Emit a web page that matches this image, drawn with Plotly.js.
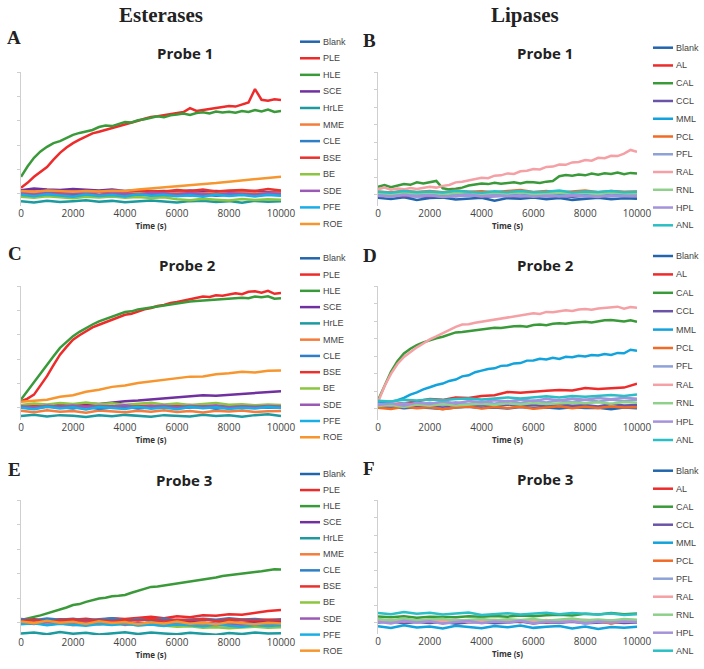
<!DOCTYPE html>
<html>
<head>
<meta charset="utf-8">
<script src="https://cdn.plot.ly/plotly-3.0.1.min.js"></script>
<style>
  html, body { margin: 0; padding: 0; background: #fff; }
  #chart { width: 704px; height: 669px; }
</style>
</head>
<body>
<div id="chart"></div>
<script>
// time points (s)
const T41 = [0,250,500,750,1000,1250,1500,1750,2000,2250,2500,2750,3000,3250,3500,3750,4000,4250,4500,4750,5000,5250,5500,5750,6000,6250,6500,6750,7000,7250,7500,7750,8000,8250,8500,8750,9000,9250,9500,9750,10000];
const T21 = [0,500,1000,1500,2000,2500,3000,3500,4000,4500,5000,5500,6000,6500,7000,7500,8000,8500,9000,9500,10000];
const TIME_TICKS = [0,2000,4000,6000,8000,10000];

const ESTERASE_NAMES = ["Blank","PLE","HLE","SCE","HrLE","MME","CLE","BSE","BE","SDE","PFE","ROE"];
const LIPASE_NAMES = ["Blank","AL","CAL","CCL","MML","PCL","PFL","RAL","RNL","HPL","ANL"];
const ESTERASE_COLORS = ["#2265ad","#ee2b2b","#3a9a3a","#7030a0","#1b9aa0","#f47c3c","#2f7fc8","#e8322e","#8cc540","#9b59b6","#19aee6","#f7962e"];
const LIPASE_COLORS = ["#2265ad","#ee2b2b","#3a9a3a","#6a54a8","#12a2dc","#f26a25","#8ea2d8","#f4a0a4","#8fd18a","#a493db","#29bfc4"];

// ---- A: esterases, probe 1
const A_BLANK = [-0.02,0.03,-0.05,0.0,-0.04,0.02,-0.06,0.0,-0.03,0.02,-0.05,-0.01,0.02,-0.04,0.0,-0.06,-0.02,0.01,-0.04,0.0,-0.02];
const A_PLE = [0.25,0.45,0.70,0.90,1.10,1.40,1.68,1.90,2.08,2.22,2.35,2.48,2.55,2.62,2.72,2.78,2.83,2.92,3.00,3.08,3.15,3.18,3.22,3.26,3.30,3.36,3.52,3.40,3.44,3.48,3.50,3.56,3.60,3.58,3.66,3.75,4.30,3.86,3.82,3.88,3.85];
const A_HLE = [0.70,1.12,1.48,1.74,1.93,2.08,2.16,2.30,2.42,2.50,2.56,2.62,2.74,2.80,2.78,2.86,2.95,2.93,3.02,3.06,3.12,3.18,3.14,3.22,3.26,3.30,3.24,3.32,3.35,3.30,3.38,3.34,3.37,3.33,3.40,3.36,3.44,3.38,3.46,3.36,3.40];
const A_SCE = [0.15,0.22,0.18,0.16,0.20,0.17,0.14,0.18,0.12,0.15,0.10,0.12,0.08,0.14,0.10,0.12,0.08,0.10,0.12,0.06,0.10];
const A_HRLE = [-0.30,-0.36,-0.28,-0.34,-0.30,-0.26,-0.33,-0.29,-0.35,-0.30,-0.27,-0.32,-0.36,-0.30,-0.28,-0.34,-0.30,-0.37,-0.29,-0.33,-0.30];
const A_MME = [0.10,0.04,0.08,0.02,0.06,0.05,0.08,0.03,0.06,0.02,0.05,0.00,0.04,0.06,0.02,0.05,0.03,0.06,0.02,0.04,0.05];
const A_CLE = [-0.06,-0.02,-0.08,-0.04,-0.10,-0.03,-0.07,-0.05,-0.09,-0.02,-0.06,-0.08,-0.04,-0.07,-0.03,-0.08,-0.05,-0.02,-0.07,-0.04,-0.06];
const A_BSE = [0.08,0.10,0.06,0.10,0.08,0.12,0.10,0.08,0.10,0.14,0.12,0.10,0.16,0.12,0.18,0.10,0.14,0.16,0.12,0.20,0.14];
const A_BE = [-0.12,-0.16,-0.10,-0.14,-0.18,-0.12,-0.15,-0.11,-0.16,-0.13,-0.17,-0.14,-0.22,-0.26,-0.20,-0.24,-0.27,-0.21,-0.25,-0.22,-0.24];
const A_SDE = [0.02,-0.03,0.04,-0.02,0.01,0.03,-0.04,0.02,0.00,-0.03,0.04,0.01,-0.02,0.03,0.00,-0.04,0.02,0.01,-0.03,0.02,0.00];
const A_PFE = [-0.04,-0.10,-0.02,-0.08,-0.12,-0.03,-0.09,-0.05,-0.11,-0.02,-0.08,-0.04,-0.10,-0.06,-0.12,-0.03,-0.09,-0.05,-0.11,-0.04,-0.08];
const A_ROE = [0.12,0.08,0.14,0.10,0.08,0.12,0.10,0.13,0.12,0.18,0.22,0.26,0.30,0.36,0.40,0.44,0.50,0.55,0.60,0.64,0.70];

// ---- B: lipases, probe 1
const B_BLANK = [-0.18,-0.25,-0.15,-0.30,-0.20,-0.16,-0.28,-0.22,-0.18,-0.35,-0.20,-0.24,-0.17,-0.26,-0.19,-0.30,-0.22,-0.18,-0.27,-0.21,-0.24];
const B_AL = [0.12,0.06,0.14,0.08,0.10,0.04,0.12,0.07,0.13,0.09,0.05,0.11,0.08,0.14,0.06,0.10,0.12,0.07,0.11,0.09,0.08];
const B_CAL = [0.45,0.55,0.42,0.50,0.60,0.56,0.70,0.64,0.72,0.78,0.36,0.30,0.34,0.40,0.52,0.58,0.63,0.60,0.68,0.62,0.67,0.70,0.64,0.72,0.70,0.66,0.74,0.78,1.05,1.12,1.08,1.15,1.10,1.20,1.14,1.22,1.18,1.26,1.16,1.24,1.20];
const B_CCL = [-0.10,-0.05,-0.12,-0.08,-0.14,-0.06,-0.10,-0.04,-0.12,-0.09,-0.07,-0.13,-0.05,-0.10,-0.08,-0.12,-0.06,-0.11,-0.09,-0.05,-0.10];
const B_MML = [0.04,0.10,0.02,0.08,0.00,0.06,0.03,0.09,0.01,0.05,0.07,0.02,0.08,0.04,0.00,0.06,0.03,0.08,0.02,0.05,0.04];
const B_PCL = [0.18,0.12,0.22,0.15,0.20,0.14,0.24,0.16,0.19,0.13,0.21,0.26,0.15,0.20,0.12,0.18,0.23,0.14,0.20,0.16,0.18];
const B_PFL = [-0.04,-0.10,0.00,-0.08,-0.02,-0.12,-0.05,-0.09,0.01,-0.07,-0.03,-0.11,-0.06,0.00,-0.09,-0.04,-0.08,-0.02,-0.10,-0.05,-0.06];
const B_RAL = [0.30,0.40,0.28,0.35,0.30,0.38,0.32,0.40,0.45,0.40,0.50,0.55,0.70,0.74,0.82,0.86,0.96,0.94,1.08,1.10,1.21,1.18,1.33,1.36,1.46,1.44,1.58,1.60,1.72,1.70,1.84,1.86,1.97,1.94,2.10,2.08,2.22,2.20,2.34,2.55,2.45];
const B_RNL = [0.10,0.04,0.14,0.06,0.12,0.02,0.09,0.13,0.05,0.10,0.07,0.12,0.03,0.09,0.11,0.06,0.10,0.04,0.12,0.08,0.07];
const B_HPL = [-0.06,-0.12,-0.02,-0.10,-0.04,-0.14,-0.07,-0.01,-0.11,-0.05,-0.09,-0.03,-0.12,-0.06,-0.10,-0.02,-0.08,-0.13,-0.04,-0.09,-0.06];
const B_ANL = [0.16,0.10,0.20,0.14,0.18,0.12,0.22,0.15,0.11,0.19,0.14,0.21,0.13,0.17,0.24,0.12,0.18,0.15,0.20,0.13,0.16];

// ---- C: esterases, probe 2
const C_BLANK = [0.04,0.00,0.06,0.02,-0.02,0.05,0.01,0.07,0.03,-0.01,0.04,0.06,0.00,0.03,0.05,-0.02,0.04,0.01,0.06,0.02,0.03];
const C_PLE = [0.27,0.38,0.54,0.90,1.30,1.75,2.18,2.50,2.80,2.98,3.14,3.30,3.41,3.52,3.62,3.72,3.82,3.86,3.96,4.04,4.10,4.18,4.22,4.30,4.34,4.40,4.48,4.52,4.57,4.55,4.62,4.60,4.64,4.70,4.66,4.76,4.78,4.72,4.80,4.68,4.71];
const C_HLE = [0.34,0.70,1.09,1.45,1.77,2.12,2.46,2.72,2.94,3.12,3.28,3.42,3.55,3.64,3.74,3.84,3.93,3.96,4.04,4.08,4.12,4.18,4.22,4.25,4.30,4.32,4.36,4.38,4.40,4.42,4.44,4.46,4.48,4.50,4.52,4.50,4.57,4.54,4.58,4.48,4.50];
const C_SCE = [0.10,0.12,0.08,0.14,0.13,0.18,0.16,0.22,0.27,0.30,0.34,0.38,0.44,0.48,0.52,0.50,0.54,0.58,0.61,0.64,0.68];
const C_HRLE = [-0.34,-0.28,-0.36,-0.30,-0.33,-0.38,-0.31,-0.35,-0.29,-0.34,-0.37,-0.30,-0.33,-0.36,-0.28,-0.34,-0.31,-0.37,-0.30,-0.26,-0.34];
const C_MME = [-0.12,-0.18,-0.10,-0.16,-0.13,-0.20,-0.11,-0.15,-0.18,-0.12,-0.16,-0.10,-0.17,-0.13,-0.19,-0.12,-0.15,-0.11,-0.17,-0.14,-0.13];
const C_CLE = [0.02,-0.04,0.05,0.00,-0.02,0.04,-0.05,0.01,0.03,-0.03,0.02,0.05,-0.02,0.00,0.04,-0.04,0.02,-0.01,0.03,0.00,0.02];
const C_BSE = [0.05,0.10,0.03,0.08,0.12,0.06,0.09,0.04,0.11,0.07,0.10,0.05,0.08,0.12,0.06,0.09,0.03,0.10,0.07,0.05,0.08];
const C_BE = [0.12,0.18,0.14,0.20,0.16,0.22,0.15,0.19,0.13,0.17,0.21,0.14,0.18,0.12,0.16,0.20,0.13,0.15,0.11,0.14,0.12];
const C_SDE = [0.06,0.02,0.08,0.04,0.09,0.03,0.07,0.05,0.10,0.02,0.06,0.08,0.03,0.07,0.05,0.09,0.02,0.06,0.04,0.07,0.05];
const C_PFE = [0.00,-0.06,0.04,-0.03,0.02,-0.07,0.03,-0.02,-0.05,0.04,-0.04,0.01,-0.06,0.03,-0.02,0.02,-0.05,0.00,-0.03,0.03,-0.01];
const C_ROE = [0.25,0.29,0.33,0.45,0.52,0.66,0.74,0.86,0.92,1.02,1.08,1.15,1.19,1.28,1.29,1.38,1.42,1.48,1.45,1.52,1.53];

// ---- D: lipases, probe 2
const D_BLANK = [0.05,0.10,0.02,0.08,0.04,-0.02,0.06,0.10,0.03,0.07,0.01,0.09,0.04,0.06,0.00,0.08,0.03,0.05,-0.03,0.06,0.02];
const D_AL = [0.19,0.25,0.30,0.42,0.55,0.50,0.64,0.60,0.72,0.76,0.95,0.90,0.98,1.02,1.06,1.04,1.18,1.12,1.16,1.20,1.42];
const D_CAL = [0.48,1.33,2.10,2.70,3.15,3.42,3.63,3.78,3.91,4.02,4.10,4.22,4.35,4.38,4.42,4.50,4.54,4.56,4.62,4.60,4.67,4.70,4.72,4.68,4.77,4.80,4.76,4.84,4.87,4.85,4.90,4.94,4.96,4.92,5.00,5.04,5.06,5.02,4.98,5.04,4.96];
const D_CCL = [0.15,0.08,0.20,0.12,0.18,0.10,0.22,0.14,0.19,0.11,0.24,0.16,0.20,0.13,0.25,0.17,0.21,0.12,0.26,0.18,0.20];
const D_MML = [0.38,0.35,0.40,0.48,0.61,0.80,0.93,1.10,1.22,1.35,1.43,1.58,1.66,1.84,1.90,2.08,2.17,2.26,2.30,2.44,2.46,2.58,2.60,2.74,2.75,2.84,2.80,2.90,2.84,2.96,2.93,3.02,2.98,3.06,3.03,3.12,3.06,3.18,3.16,3.36,3.30];
const D_PCL = [0.05,-0.02,0.10,0.02,0.08,-0.04,0.06,0.12,0.00,0.09,0.03,0.11,-0.01,0.07,0.13,0.02,0.10,0.04,0.12,0.06,0.08];
const D_PFL = [0.25,0.18,0.30,0.22,0.34,0.20,0.36,0.26,0.40,0.28,0.44,0.32,0.46,0.35,0.48,0.38,0.50,0.40,0.52,0.42,0.50];
const D_RAL = [0.38,1.28,1.98,2.55,2.95,3.24,3.50,3.72,3.95,4.12,4.30,4.50,4.67,4.80,4.82,4.90,4.96,5.04,5.08,5.12,5.19,5.26,5.30,5.38,5.44,5.40,5.52,5.50,5.57,5.62,5.58,5.66,5.69,5.64,5.72,5.76,5.76,5.82,5.70,5.80,5.76];
const D_RNL = [0.15,0.20,0.10,0.24,0.16,0.26,0.18,0.22,0.28,0.20,0.30,0.24,0.32,0.26,0.28,0.34,0.30,0.36,0.28,0.38,0.34];
const D_HPL = [0.20,0.30,0.16,0.34,0.26,0.40,0.30,0.44,0.36,0.48,0.40,0.52,0.44,0.56,0.46,0.58,0.50,0.60,0.54,0.62,0.56];
const D_ANL = [0.45,0.40,0.50,0.46,0.52,0.48,0.55,0.58,0.52,0.60,0.64,0.58,0.66,0.70,0.64,0.72,0.68,0.74,0.78,0.72,0.80];

// ---- E: esterases, probe 3
const E_BLANK = [0.10,0.14,0.08,0.12,0.06,0.11,0.09,0.13,0.07,0.12,0.10,0.05,0.11,0.08,0.13,0.09,0.06,0.12,0.10,0.08,0.11];
const E_PLE = [0.05,0.10,0.08,0.14,0.12,0.16,0.10,0.18,0.15,0.20,0.24,0.18,0.26,0.22,0.30,0.28,0.35,0.33,0.42,0.48,0.52];
const E_HLE = [0.11,0.16,0.24,0.30,0.38,0.46,0.52,0.62,0.72,0.76,0.85,0.92,0.99,1.02,1.08,1.10,1.13,1.22,1.30,1.38,1.46,1.48,1.52,1.56,1.60,1.62,1.68,1.72,1.76,1.80,1.84,1.90,1.94,1.96,2.02,2.04,2.07,2.10,2.14,2.18,2.17];
const E_SCE = [0.02,-0.04,0.05,0.00,0.03,-0.03,0.04,-0.01,0.02,-0.05,0.01,0.04,-0.02,0.03,0.00,-0.04,0.02,-0.01,0.04,0.00,0.02];
const E_HRLE = [-0.44,-0.40,-0.47,-0.38,-0.45,-0.41,-0.48,-0.42,-0.39,-0.46,-0.40,-0.44,-0.47,-0.41,-0.45,-0.49,-0.42,-0.46,-0.40,-0.44,-0.43];
const E_MME = [-0.04,0.02,-0.08,-0.02,-0.10,-0.04,-0.07,0.00,-0.09,-0.03,-0.06,-0.11,-0.02,-0.08,-0.05,-0.10,-0.03,-0.07,-0.12,-0.04,-0.06];
const E_CLE = [0.15,0.10,0.17,0.12,0.16,0.09,0.14,0.18,0.11,0.15,0.13,0.17,0.10,0.14,0.16,0.12,0.18,0.13,0.15,0.11,0.14];
const E_BSE = [0.08,0.12,0.05,0.10,0.14,0.07,0.11,0.06,0.13,0.09,0.15,0.08,0.12,0.10,0.14,0.07,0.13,0.11,0.09,0.12,0.10];
const E_BE = [0.02,-0.02,0.03,-0.04,0.00,-0.05,-0.02,-0.08,-0.04,-0.10,-0.07,-0.12,-0.16,-0.14,-0.20,-0.18,-0.22,-0.19,-0.16,-0.20,-0.18];
const E_SDE = [0.00,-0.05,0.03,-0.02,-0.06,0.01,-0.04,0.02,-0.07,-0.01,-0.05,0.00,-0.08,-0.03,0.01,-0.06,-0.02,-0.09,-0.04,-0.01,-0.05];
const E_PFE = [-0.06,-0.02,-0.10,-0.04,-0.08,-0.12,-0.05,-0.09,-0.03,-0.11,-0.07,-0.13,-0.06,-0.10,-0.14,-0.08,-0.12,-0.16,-0.09,-0.13,-0.10];
const E_ROE = [0.05,-0.02,0.08,0.00,0.04,-0.05,0.06,-0.01,0.03,-0.06,0.02,-0.03,0.05,-0.04,0.01,-0.07,0.03,-0.02,-0.06,0.00,-0.03];

// ---- F: lipases, probe 3
const F_BLANK = [0.10,0.02,0.12,0.05,0.08,-0.02,0.10,0.04,0.07,0.00,0.09,0.03,0.11,0.06,0.02,0.08,0.04,0.10,0.01,0.07,0.05];
const F_AL = [0.05,0.12,0.00,0.08,0.03,0.10,-0.02,0.06,0.09,0.01,0.07,0.04,0.11,-0.01,0.05,0.08,0.02,0.10,-0.04,0.06,0.03];
const F_CAL = [0.35,0.30,0.36,0.28,0.34,0.32,0.30,0.36,0.33,0.38,0.34,0.40,0.36,0.42,0.45,0.40,0.50,0.46,0.55,0.48,0.52];
const F_CCL = [0.00,0.06,-0.04,0.03,-0.02,0.05,-0.06,0.02,0.04,-0.03,0.01,0.06,-0.05,0.03,-0.01,0.05,-0.04,0.02,0.04,-0.02,0.01];
const F_MML = [-0.20,-0.30,-0.15,-0.28,-0.22,-0.34,-0.18,-0.26,-0.32,-0.20,-0.27,-0.16,-0.30,-0.24,-0.19,-0.33,-0.22,-0.36,-0.25,-0.30,-0.24];
const F_PCL = [0.08,0.02,0.12,0.05,0.10,0.00,0.07,0.13,0.03,0.09,0.06,0.11,0.01,0.08,0.04,0.10,0.02,0.07,-0.05,0.09,0.05];
const F_PFL = [0.15,0.08,0.18,0.10,0.14,0.06,0.16,0.09,0.13,0.05,0.15,0.11,0.07,0.14,0.10,0.17,0.08,0.12,0.06,0.13,0.10];
const F_RAL = [0.10,0.16,0.06,0.12,0.18,0.08,0.14,0.04,0.11,0.16,0.07,0.13,0.09,0.15,0.05,0.12,0.17,0.08,0.14,0.10,0.12];
const F_RNL = [0.20,0.14,0.24,0.12,0.18,0.22,0.10,0.16,0.20,0.13,0.19,0.15,0.21,0.11,0.17,0.23,0.14,0.18,0.12,0.20,0.16];
const F_HPL = [0.05,-0.05,0.10,0.00,0.08,-0.06,0.04,0.09,-0.03,0.06,0.00,0.10,-0.04,0.05,0.02,0.08,-0.05,0.06,0.00,0.07,0.02];
const F_ANL = [0.55,0.48,0.60,0.50,0.56,0.46,0.52,0.58,0.44,0.50,0.54,0.47,0.52,0.56,0.48,0.55,0.50,0.46,0.52,0.44,0.48];

const W = 704, H = 669;
const px = v => v / W;
const py = v => 1 - v / H;

// box = [left, right, top, bottom] in pixels; legend = [lineX, firstY, step]
const panels = [
  { letter: "A", probe: "Probe 1", names: ESTERASE_NAMES, colors: ESTERASE_COLORS,
    series: [A_BLANK,A_PLE,A_HLE,A_SCE,A_HRLE,A_MME,A_CLE,A_BSE,A_BE,A_SDE,A_PFE,A_ROE],
    box: [21,281,72,206], yRange: [-0.5,5], letterAt: [14,38], titleAt: [185,53], legend: [300,41.7,16.57] },
  { letter: "B", probe: "Probe 1", names: LIPASE_NAMES, colors: LIPASE_COLORS,
    series: [B_BLANK,B_AL,B_CAL,B_CCL,B_MML,B_PCL,B_PFL,B_RAL,B_RNL,B_HPL,B_ANL],
    box: [378,637,72,206], yRange: [-0.65,7], letterAt: [369,40], titleAt: [545,53], legend: [653,47.7,17.76] },
  { letter: "C", probe: "Probe 2", names: ESTERASE_NAMES, colors: ESTERASE_COLORS,
    series: [C_BLANK,C_PLE,C_HLE,C_SCE,C_HRLE,C_MME,C_CLE,C_BSE,C_BE,C_SDE,C_PFE,C_ROE],
    box: [21,281,286,420], yRange: [-0.5,5], letterAt: [15,253], titleAt: [187,265], legend: [300,258.3,16.27] },
  { letter: "D", probe: "Probe 2", names: LIPASE_NAMES, colors: LIPASE_COLORS,
    series: [D_BLANK,D_AL,D_CAL,D_CCL,D_MML,D_PCL,D_PFL,D_RAL,D_RNL,D_HPL,D_ANL],
    box: [378,637,286,420], yRange: [-0.65,7], letterAt: [370,255], titleAt: [545,265], legend: [653,256,18.4] },
  { letter: "E", probe: "Probe 3", names: ESTERASE_NAMES, colors: ESTERASE_COLORS,
    series: [E_BLANK,E_PLE,E_HLE,E_SCE,E_HRLE,E_MME,E_CLE,E_BSE,E_BE,E_SDE,E_PFE,E_ROE],
    box: [21,281,500,635], yRange: [-0.5,5], letterAt: [14,470], titleAt: [184,480], legend: [300,474,16.06] },
  { letter: "F", probe: "Probe 3", names: LIPASE_NAMES, colors: LIPASE_COLORS,
    series: [F_BLANK,F_AL,F_CAL,F_CCL,F_MML,F_PCL,F_PFL,F_RAL,F_RNL,F_HPL,F_ANL],
    box: [378,637,500,634], yRange: [-0.65,7], letterAt: [369,468], titleAt: [545,479], legend: [653,470.7,18] }
];

const traces = [];
const shapes = [];
const annotations = [
  { text: "<b>Esterases</b>", x: px(161), y: py(15), font: { family: "Liberation Serif", size: 21, color: "#222" } },
  { text: "<b>Lipases</b>", x: px(525), y: py(15), font: { family: "Liberation Serif", size: 21, color: "#222" } }
];
const layout = {
  width: W, height: H,
  margin: { l: 0, r: 0, t: 0, b: 0 },
  paper_bgcolor: "#fff", plot_bgcolor: "#fff",
  showlegend: false
};

panels.forEach((p, i) => {
  const s = i === 0 ? "" : String(i + 1);
  const [left, right, top, bottom] = p.box;

  p.series.forEach((ys, k) => {
    traces.push({
      x: ys.length === T41.length ? T41 : T21,
      y: ys,
      type: "scatter",
      mode: "lines",
      name: p.names[k],
      line: { color: p.colors[k], width: 2.5 },
      xaxis: "x" + s,
      yaxis: "y" + s,
      hoverinfo: "skip"
    });
  });

  layout["xaxis" + s] = {
    domain: [px(left), px(right)],
    anchor: "y" + s,
    range: [0, 10000],
    tickvals: TIME_TICKS,
    tickformat: "d",
    ticks: "",
    showline: false, showgrid: false, zeroline: false,
    tickfont: { family: "Open Sans", size: 10, color: "#444" },
    title: { text: "<b>Time (s)</b>", font: { family: "Open Sans", size: 8, color: "#333" }, standoff: 3 }
  };
  layout["yaxis" + s] = {
    domain: [py(bottom), py(top)],
    anchor: "x" + s,
    range: p.yRange,
    tick0: 0, dtick: 1,
    ticks: "outside", ticklen: 3, tickcolor: "#cfcfcf",
    showticklabels: false,
    showline: true, linecolor: "#cfcfcf", linewidth: 1,
    showgrid: false, zeroline: false
  };

  annotations.push({ text: "<b>" + p.letter + "</b>", x: px(p.letterAt[0]), y: py(p.letterAt[1]),
    font: { family: "Liberation Serif", size: 19, color: "#222" } });
  annotations.push({ text: "<b>" + p.probe + "</b>", x: px(p.titleAt[0]), y: py(p.titleAt[1]),
    font: { family: "Open Sans", size: 15, color: "#222" } });

  // legend drawn as line swatches + labels
  const [lx, ly, step] = p.legend;
  p.names.forEach((name, k) => {
    const yy = ly + k * step;
    shapes.push({ type: "line", xref: "paper", yref: "paper",
      x0: px(lx), x1: px(lx + 20), y0: py(yy), y1: py(yy),
      line: { color: p.colors[k], width: 2.5 } });
    annotations.push({ text: name, x: px(lx + 21), y: py(yy), xanchor: "left",
      font: { family: "Liberation Sans", size: 9, color: "#444" } });
  });
});

annotations.forEach(a => {
  a.xref = "paper"; a.yref = "paper"; a.showarrow = false;
  if (!a.xanchor) a.xanchor = "center";
  a.yanchor = "middle";
});
layout.annotations = annotations;
layout.shapes = shapes;

Plotly.newPlot("chart", traces, layout, { staticPlot: true, displayModeBar: false });
</script>
</body>
</html>
